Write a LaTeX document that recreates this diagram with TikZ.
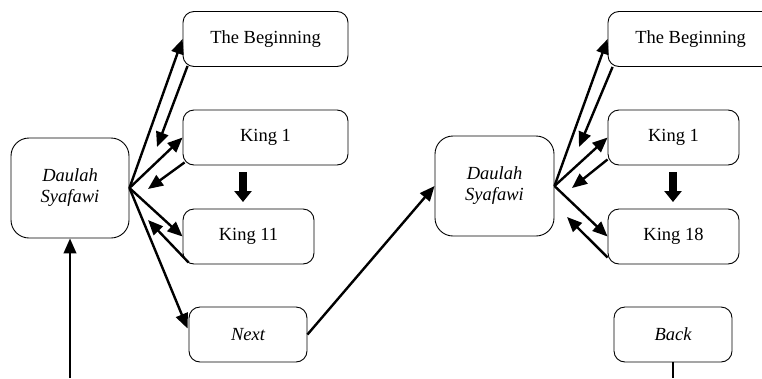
\documentclass[tikz,border=0pt]{standalone}
\usepackage{fontspec}
\setmainfont{Liberation Serif}
\usetikzlibrary{arrows.meta, calc}
\tikzset{
>={Triangle[length=15pt,width=12.5pt]},
box/.style={%
    rectangle,
    draw=black,
    line width=0.9pt,
    rounded corners=11pt,
    minimum height=55pt,
    inner sep=0pt,
    font=\fontsize{18.5}{21}\selectfont
},
bigbox/.style={%
    box, rounded corners=18pt, minimum width=118pt, minimum height=100pt,
    align=center, font=\fontsize{18.5}{21}\selectfont\itshape
},
link/.style={->, line width=2.4pt},
push/.style={-{Triangle[length=11pt,width=17pt]}, line width=7.5pt},
}

\begin{document}
\begin{tikzpicture}[x=1pt, y=-1pt]
	\path[use as bounding box, clip] (0,0) rectangle (762,378);

	% first screen
	\node[bigbox] at (70,188) (dsL) {Daulah\\Syafawi};
	\node[box, minimum width=165pt] at (265.5,39) (begL) {The Beginning};
	\node[box, minimum width=165pt] at (265.5,137.5) (k1L) {King 1};
	\node[box, minimum width=131pt] at (248.5,236.5) (k11L) {King 11};
	\node[box, minimum width=118pt, font=\fontsize{18.5}{21}\selectfont\itshape] at (248,334.5) (nextL) {Next};

	% second screen
	\node[bigbox, minimum width=119pt] at (494.5,186) (dsR) {Daulah\\Syafawi};
	\node[box, minimum width=165pt] at (690.5,39) (begR) {The Beginning};
	\node[box, minimum width=131pt] at (673.5,137.5) (k1R) {King 1};
	\node[box, minimum width=131pt] at (673.5,236.5) (k18R) {King 18};
	\node[box, minimum width=118pt, font=\fontsize{18.5}{21}\selectfont\itshape] at (673,334.5) (backR) {Back};

	\coordinate (in) at (70,378);
	\coordinate (out) at (673,378);
	\coordinate (bL) at (157,147);
	\coordinate (kL) at (148,189);
	\coordinate (mL) at (148,220);
	\coordinate (bR) at (579,147);
	\coordinate (kR) at (572,188);
	\coordinate (mR) at (567,217);
	\coordinate (pL1) at (243,172);
	\coordinate (pL2) at (243,202);
	\coordinate (pR1) at (673,172);
	\coordinate (pR2) at (673,202);

	\draw[link] (in) -- (dsL.south);
	\foreach \t in {begL.west, k1L.west, k11L.west}
		\draw[link] (dsL.east) -- (\t);
	\draw[link] (dsL.east) -- ($(nextL.west)+(-1,-6)$);
	\draw[link] ($(begL.south west)+(5,-1)$) -- (bL);
	\draw[link] ($(k1L.south west)+(2,-3)$) -- (kL);
	\draw[link] ($(k11L.south west)+(6,-2)$) -- (mL);
	\draw[push] (pL1) -- (pL2);

	\draw[link] (nextL.east) -- (dsR.west);
	\foreach \t in {begR.west, k1R.west, k18R.west}
		\draw[link] (dsR.east) -- (\t);
	\draw[link] ($(begR.south west)+(5,0)$) -- (bR);
	\draw[link] ($(k1R.south west)+(0,-6)$) -- (kR);
	\draw[link] ($(k18R.south west)+(0,-7)$) -- (mR);
	\draw[push] (pR1) -- (pR2);
	\draw[line width=2.4pt] (backR.south) -- (out);

\end{tikzpicture}
\end{document}
